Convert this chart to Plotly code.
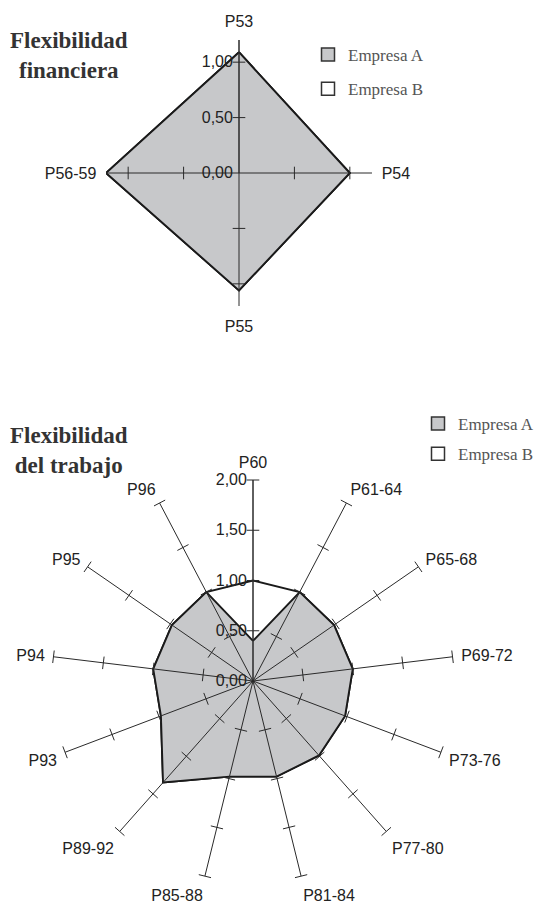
import plotly.graph_objects as go

# ---- data ----
fin_categories = ["P53", "P54", "P55", "P56-59"]
fin_empresa_a = [1.09, 1.00, 1.06, 1.20]
fin_empresa_b = [1.09, 1.00, 1.06, 1.20]
fin_ticks = [0.0, 0.5, 1.0]
fin_range_max = 1.2

trab_categories = ["P60", "P61-64", "P65-68", "P69-72", "P73-76", "P77-80", "P81-84",
                   "P85-88", "P89-92", "P93", "P94", "P95", "P96"]
trab_empresa_a = [0.40, 1.00, 0.98, 1.00, 0.98, 0.99, 0.98, 0.98, 1.35, 0.98, 1.00, 0.98, 1.00]
trab_empresa_b = [1.00, 1.00, 0.98, 1.00, 0.98, 0.99, 0.98, 0.98, 1.35, 0.98, 1.00, 0.98, 1.00]
trab_ticks = [0.0, 0.5, 1.0, 1.5, 2.0]
trab_range_max = 2.0

series_names = ["Empresa A", "Empresa B"]
series_fill = ["#c7c8ca", "white"]

LINE = "#1a1a1a"
SPOKE = "#2a2a2a"
LABEL_FONT = dict(family="Liberation Sans, Arial, sans-serif", size=16, color="#222222")

fig = go.Figure()


def add_chart(polar, cats, a_vals, b_vals, ticks, rmax, legend):
    closed = lambda v: list(v) + [v[0]]
    th = closed(cats)
    # Empresa B below, Empresa A above
    for vals, fillc in ((b_vals, series_fill[1]), (a_vals, series_fill[0])):
        fig.add_trace(go.Scatterpolar(
            r=closed(vals), theta=th, subplot=polar, mode="lines", fill="toself",
            fillcolor=fillc, line=dict(color=LINE, width=1.9), showlegend=False,
            hoverinfo="skip"))
    # spokes (category axes) drawn over the fills
    sr, st = [], []
    for c in cats:
        sr += [0, rmax, None]
        st += [c, c, c]
    fig.add_trace(go.Scatterpolar(
        r=sr, theta=st, subplot=polar, mode="lines", showlegend=False,
        line=dict(color=SPOKE, width=1), connectgaps=False, hoverinfo="skip"))
    # tick marks on every spoke
    n = len(cats)
    tr, tt, ta = [], [], []
    for i, c in enumerate(cats):
        for t in ticks[1:]:
            tr.append(t)
            tt.append(c)
            ta.append(i * 360.0 / n)
    fig.add_trace(go.Scatterpolar(
        r=tr, theta=tt, subplot=polar, mode="markers", showlegend=False,
        marker=dict(symbol="line-ew", size=9, angle=ta, line=dict(color=SPOKE, width=1)),
        hoverinfo="skip"))
    # legend entries (square swatches)
    for k, (name, fillc) in enumerate(zip(series_names, series_fill)):
        fig.add_trace(go.Scatterpolar(
            r=[None], theta=[cats[0]], subplot=polar, mode="markers", name=name,
            marker=dict(symbol="square", size=13, color=fillc,
                        line=dict(color="#333333", width=1.5)),
            legend=legend, legendgroup=name + legend, legendrank=k + 1,
            hoverinfo="skip"))


add_chart("polar", fin_categories, fin_empresa_a, fin_empresa_b, fin_ticks, fin_range_max, "legend")
add_chart("polar2", trab_categories, trab_empresa_a, trab_empresa_b, trab_ticks, trab_range_max, "legend2")


def polar_layout(dom_x, dom_y, cats, ticks, rmax, pad):
    return dict(
        domain=dict(x=dom_x, y=dom_y),
        bgcolor="white",
        radialaxis=dict(range=[0, rmax], tickvals=ticks, tickformat=".2f",
                        showgrid=False, showline=True, linecolor=SPOKE, linewidth=1,
                        ticks="", angle=90, tickangle=90, side="counterclockwise",
                        tickfont=LABEL_FONT, layer="above traces"),
        angularaxis=dict(categoryorder="array", categoryarray=cats,
                         direction="clockwise", rotation=90,
                         showline=False, showgrid=False,
                         ticks="outside", ticklen=pad, tickcolor="rgba(0,0,0,0)",
                         tickfont=LABEL_FONT),
    )


W, H = 541, 907


def dom(cx, cy, r):
    return [(cx - r) / W, (cx + r) / W], [1 - (cy + r) / H, 1 - (cy - r) / H]


dx1, dy1 = dom(239, 173, 133)
dx2, dy2 = dom(253, 681, 201)

legend_font = dict(family="Liberation Serif, Times New Roman, serif", size=17, color="#555555")
title_font = dict(family="Liberation Serif, Times New Roman, serif", size=23, color="#333333")

fig.update_layout(
    width=W, height=H,
    margin=dict(l=0, r=0, t=0, b=0),
    paper_bgcolor="white",
    separators=",.",
    polar=polar_layout(dx1, dy1, fin_categories, fin_ticks, fin_range_max, 6),
    polar2=polar_layout(dx2, dy2, trab_categories, trab_ticks, trab_range_max, 5),
    legend=dict(x=308 / W, y=1 - 37 / H, xanchor="left", yanchor="top", font=legend_font,
                bgcolor="rgba(0,0,0,0)", tracegroupgap=9, itemwidth=30),
    legend2=dict(x=418 / W, y=1 - 406 / H, xanchor="left", yanchor="top", font=legend_font,
                 bgcolor="rgba(0,0,0,0)", tracegroupgap=5, itemwidth=30),
    annotations=[
        dict(text="<b>Flexibilidad<br>financiera</b>", x=69 / W, y=1 - 26 / H,
             xref="paper", yref="paper", xanchor="center", yanchor="top",
             showarrow=False, font=title_font),
        dict(text="<b>Flexibilidad<br>del trabajo</b>", x=69 / W, y=1 - 421 / H,
             xref="paper", yref="paper", xanchor="center", yanchor="top",
             showarrow=False, font=title_font),
    ],
)

fig.write_html("out.html", config={"displayModeBar": False},
               post_script="document.body.style.margin='0';")
